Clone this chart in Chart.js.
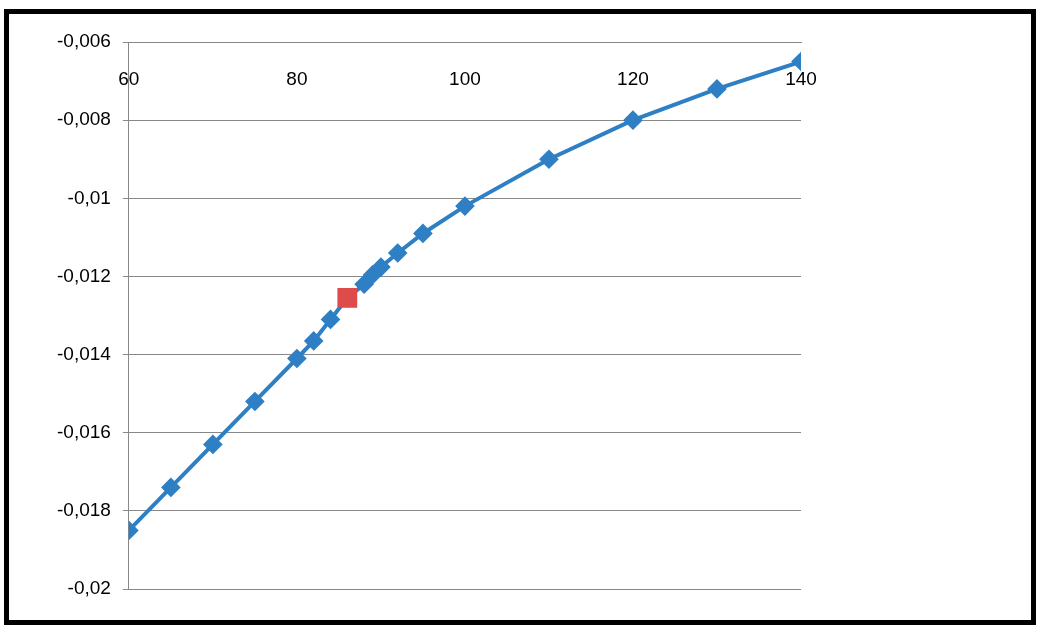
<!DOCTYPE html><html><head><script src="https://cdn.jsdelivr.net/npm/chart.js@4"></script>
<style>body{margin:0;background:#fff}#w{position:absolute;left:4px;top:9px;width:1022px;height:606px;border:5px solid #000;}</style></head><body>
<div id="w"><canvas id="c"></canvas></div>
<script>
const xs=[60,65,70,75,80,82,84,86,88,89,90,92,95,100,110,120,130,140];
const ys=[-0.0185,-0.0174,-0.0163,-0.0152,-0.0141,-0.01365,-0.0131,-0.01255,-0.0122,-0.01196,-0.01176,-0.0114,-0.0109,-0.0102,-0.009,-0.008,-0.0072,-0.0065];
const redX=[86], redY=[-0.01255];
const xTicks=[60,80,100,120,140];
const xLabels={id:'xl',afterDatasetsDraw(ch){const s=ch.scales.x,c=ch.ctx;c.save();c.fillStyle='#000';c.font='19px "Liberation Sans"';c.textAlign='center';c.textBaseline='middle';
xTicks.forEach(v=>c.fillText(String(v),s.getPixelForValue(v),ch.chartArea.top+38));c.restore();}};
new Chart(document.getElementById('c'),{type:'scatter',data:{datasets:[
{data:redX.map((x,i)=>({x,y:redY[i]})),pointStyle:'rect',pointRadius:14,backgroundColor:'#DD4B4B',borderColor:'#DD4B4B',borderWidth:0,order:0},
{data:xs.map((x,i)=>({x,y:ys[i]})),showLine:true,borderColor:'#2E7FC4',backgroundColor:'#2E7FC4',borderWidth:4,pointStyle:'rectRot',pointRadius:7,order:1}
]},options:{responsive:true,maintainAspectRatio:false,animation:false,
layout:{padding:{left:36,top:28,right:230,bottom:31}},
plugins:{legend:{display:false},tooltip:{enabled:false}},
scales:{x:{type:'linear',position:'top',min:60,max:140,afterBuildTicks:a=>{a.ticks=xTicks.map(v=>({value:v}))},
grid:{display:false,drawTicks:false},border:{color:'#888'},ticks:{display:false}},
y:{min:-0.02,max:-0.006,grid:{color:'#888',drawTicks:true,tickLength:6},border:{color:'#888'},
ticks:{stepSize:0.002,color:'#000',padding:12,font:{family:'Liberation Sans',size:19},callback:v=>String(+v.toFixed(3)).replace('.',',')}}}},plugins:[xLabels]});
</script></body></html>
